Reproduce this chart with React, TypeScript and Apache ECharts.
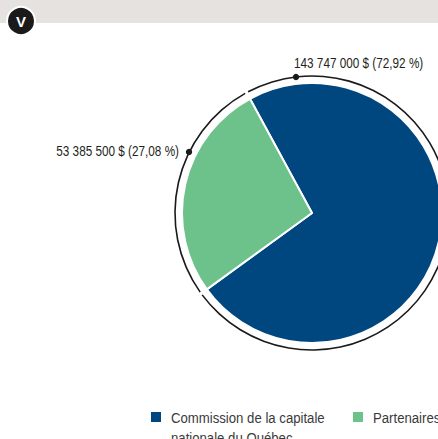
import React, { useEffect, useRef } from "react";
import * as echarts from "echarts";

const categories = ["Commission de la capitale\nnationale du Québec", "Partenaires"];
const values = [143747000, 53385500];
const valueLabels = ["143 747 000 $ (72,92 %)", "53 385 500 $ (27,08 %)"];
const colors = ["#00467F", "#6CC28A"];

const FONT = "'Liberation Sans', Arial, sans-serif";
const SQUEEZE = 0.84;

export default function App() {
  const ref = useRef<HTMLDivElement>(null);
  useEffect(() => {
    document.body.style.margin = "0";
    const chart = echarts.init(ref.current!, null, { renderer: "svg" });
    const center = [312, 213];
    const legendX = [151, 353];
    const option: any = {
      animation: false,
      graphic: [
        { type: "rect", shape: { x: 0, y: 0, width: 438, height: 23 }, style: { fill: "#E6E2DF" }, z: 0 },
        { type: "circle", shape: { cx: 21, cy: 21, r: 14 }, style: { fill: "#1A1A1A", stroke: "#ffffff", lineWidth: 2 }, z: 1 },
        { type: "text", x: 21, y: 21, style: { text: "V", fill: "#ffffff", font: "bold 15px 'Liberation Sans', sans-serif", align: "center", verticalAlign: "middle" }, z: 2 },
        // value labels with dots
        { type: "circle", shape: { cx: 296, cy: 77, r: 3.2 }, style: { fill: "#1A1A1A" }, z: 10 },
        { type: "text", x: 294, y: 63, scaleX: SQUEEZE, style: { text: valueLabels[0], fill: "#231F20", font: `14px ${FONT}`, align: "left", verticalAlign: "middle" }, z: 10 },
        { type: "circle", shape: { cx: 189, cy: 152, r: 3.2 }, style: { fill: "#1A1A1A" }, z: 10 },
        { type: "text", x: 179, y: 151, scaleX: SQUEEZE, style: { text: valueLabels[1], fill: "#231F20", font: `14px ${FONT}`, align: "right", verticalAlign: "middle" }, z: 10 },
        // legend
        ...categories.flatMap((c, i) => [
          { type: "rect", shape: { x: legendX[i], y: 412, width: 10, height: 10 }, style: { fill: colors[i] }, z: 10 },
          { type: "text", x: legendX[i] + 20, y: 408, scaleX: 0.85, style: { text: c, fill: "#3A3A3A", font: `15.5px ${FONT}`, lineHeight: 20, align: "left", verticalAlign: "top" }, z: 10 },
        ]),
      ],
      series: [
        {
          type: "pie",
          center,
          radius: [0, 130],
          startAngle: 118.5,
          clockwise: true,
          silent: true,
          label: { show: false },
          labelLine: { show: false },
          itemStyle: { borderColor: "#ffffff", borderWidth: 2 },
          data: values.map((v, i) => ({ value: v, name: categories[i], itemStyle: { color: colors[i] } })),
        },
        {
          type: "pie",
          center,
          radius: [136.2, 137.8],
          startAngle: 118.5,
          clockwise: true,
          padAngle: 1.4,
          silent: true,
          label: { show: false },
          labelLine: { show: false },
          itemStyle: { color: "#1A1A1A" },
          data: values.map((v, i) => ({ value: v, name: categories[i] })),
        },
      ],
    };
    chart.setOption(option);
    return () => chart.dispose();
  }, []);
  return <div ref={ref} style={{ width: 438, height: 439 }} />;
}
